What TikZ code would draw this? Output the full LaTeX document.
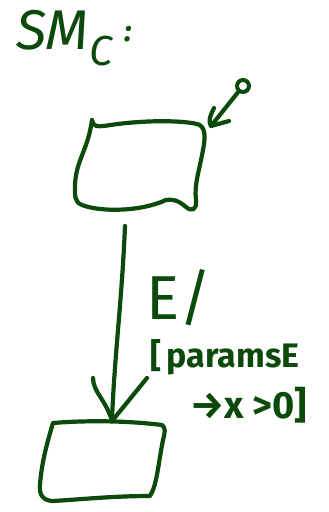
\documentclass[tikz,border=0pt]{standalone}
\usepackage{fontspec}
\setmainfont{Fira Sans}
\usetikzlibrary{arrows.meta}
\definecolor{ink}{HTML}{0B4A0B}
\tikzset{
  pen/.style={draw=ink, line width=4.2pt, line cap=round, line join=round},
  hand/.style={text=ink, inner sep=0pt, anchor=west},
}
\begin{document}
\begin{tikzpicture}[x=1pt,y=-1pt]
\useasboundingbox (0,0) rectangle (329,512);

% title
\node[hand, font=\fontsize{56}{56}\selectfont\itshape] (title) at (16,38)
  {SM\raisebox{-16pt}{\fontsize{42}{42}\selectfont C}\hspace{12pt}\raisebox{8pt}{\fontsize{30}{30}\selectfont\bfseries :}};

% upper state
\path[pen] (92,120) .. controls (94,128) and (98,126) .. (104,126)
  .. controls (140,120) and (180,120) .. (197,124)
  .. controls (205,126) and (206,135) .. (203,150)
  .. controls (199,172) and (194,185) .. (196,200)
  .. controls (197,210) and (192,212) .. (186,207)
  .. controls (178,200) and (172,199) .. (166,200)
  .. controls (140,212) and (100,212) .. (82,205)
  .. controls (74,202) and (75,195) .. (75,185)
  .. controls (76,160) and (88,150) .. (92,120);
\coordinate (s1bot) at (125,226);

% lower state
\path[pen] (53,423) .. controls (90,420) and (130,421) .. (162,425)
  .. controls (166,428) and (165,432) .. (163,440)
  .. controls (158,465) and (157,485) .. (150,496)
  .. controls (110,496) and (75,500) .. (52,501)
  .. controls (42,500) and (39,494) .. (40,484)
  .. controls (42,460) and (48,440) .. (53,423);
\coordinate (s2top) at (112,421);

% initial pseudo-state
\node[pen, circle, minimum size=12pt, inner sep=0pt, line width=4pt] (init) at (243,86) {};
\coordinate (s1init) at (211,126);
\path[pen] (init) -- (s1init);
\path[pen] (214,108) .. controls (210,116) and (208,122) .. (s1init) -- (229,121);

% transition
\path[pen] (s1bot) .. controls (122,300) and (114,360) .. (s2top);
\path[pen] (93,378) .. controls (93,392) and (106,400) .. (s2top) -- (147,378);

% transition label
\node[hand, font=\fontsize{62}{62}\selectfont] (evt) at (146,298) {E/};
\node[hand, font=\fontsize{34}{34}\selectfont\bfseries] (guard) at (150,357) {[\,paramsE};
\node[hand, font=\fontsize{38}{38}\selectfont\bfseries] (cond) at (190,405) {\symbol{"2192}x >0]};
\end{tikzpicture}
\end{document}
